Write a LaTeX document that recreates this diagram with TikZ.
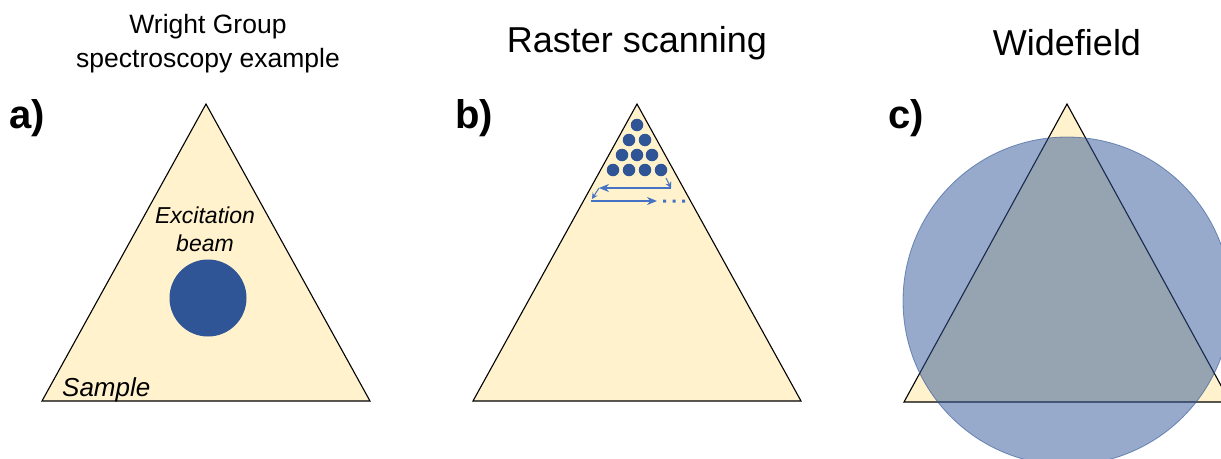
\documentclass[tikz,border=0pt]{standalone}
\usepackage{fontspec}
\setmainfont{Liberation Sans}
\usetikzlibrary{arrows.meta}
\definecolor{sampleY}{HTML}{FFF2CC}
\definecolor{beamB}{HTML}{2F5597}
\definecolor{arrB}{HTML}{4472C4}
\tikzset{
  tri/.style={fill=sampleY,draw=black,line width=1.1pt,line join=miter},
  title/.style={font=\fontsize{36}{40}\selectfont,inner sep=0pt},
  smalltitle/.style={font=\fontsize{26.5}{34}\selectfont,inner sep=0pt,align=center},
  lbl/.style={font=\fontsize{40}{44}\selectfont\bfseries,inner sep=0pt,anchor=west},
  itl/.style={font=\fontsize{23}{28}\selectfont\itshape,inner sep=0pt,align=center},
  dot/.style={circle,fill=beamB,inner sep=0pt,minimum size=12.5pt},
  scan/.style={draw=arrB,line width=1.1pt,-{Stealth[length=10pt,width=8pt]}}
}
\begin{document}
\begin{tikzpicture}[x=1pt,y=-1pt]
\useasboundingbox (0,0) rectangle (1221,458);
\clip (0,0) rectangle (1221,458);
% titles
\node[smalltitle] (ta) at (208,44) {Wright Group\\spectroscopy example};
\node[title] (tb) at (637,43) {Raster scanning};
\node[title] (tc) at (1067,43) {Widefield};
% labels
\node[lbl] (la) at (9,118) {a)};
\node[lbl] (lb) at (455,118) {b)};
\node[lbl] (lc) at (888,118) {c)};
% triangle a
\coordinate (a1) at (206,104);
\coordinate (a2) at (42,401);
\coordinate (a3) at (370,401);
\draw[tri] (a1) -- (a2) -- (a3) -- cycle;
\node[circle,fill=beamB,inner sep=0pt,minimum size=77pt] (beam) at (208,298) {};
\node[itl] (exc) at (205,229) {Excitation\\beam};
\node[itl,anchor=west,font=\fontsize{26}{28}\selectfont\itshape] (samp) at (62,390) {Sample};
% triangle b
\coordinate (b1) at (637,104);
\coordinate (b2) at (473,401);
\coordinate (b3) at (801,401);
\draw[tri] (b1) -- (b2) -- (b3) -- cycle;
\node[dot] (d11) at (637,125) {};
\node[dot] (d21) at (629,140) {};
\node[dot] (d22) at (645,140) {};
\node[dot] (d31) at (622,155) {};
\node[dot] (d32) at (637,155) {};
\node[dot] (d33) at (652,155) {};
\node[dot] (d41) at (613,170) {};
\node[dot] (d42) at (629,170) {};
\node[dot] (d43) at (645,170) {};
\node[dot] (d44) at (661,170) {};
\coordinate (r1) at (671,188);
\coordinate (l1) at (599,188);
\coordinate (l2) at (592,199);
\coordinate (r2) at (657,201);
\draw[draw=arrB,line width=1pt,-{Stealth[length=6pt,width=6pt]}] (666,178) -- (r1);
\draw[scan] (r1) -- (l1);
\draw[draw=arrB,line width=1pt,-{Stealth[length=6pt,width=6pt]}] (l1) -- (l2);
\draw[scan] (591,201) -- (r2);
\fill[arrB] (663,199.5) rectangle +(3,3) (672.5,199.5) rectangle +(3,3) (682,199.5) rectangle +(3,3);
% triangle c
\coordinate (c1) at (1067,104);
\coordinate (c2) at (904,402);
\coordinate (c3) at (1230,402);
\draw[tri] (c1) -- (c2) -- (c3) -- cycle;
\fill[beamB,fill opacity=0.5] (1067,301) circle (164);
\draw[beamB,draw opacity=0.6,line width=0.8pt] (1067,301) circle (164);
\end{tikzpicture}
\end{document}
